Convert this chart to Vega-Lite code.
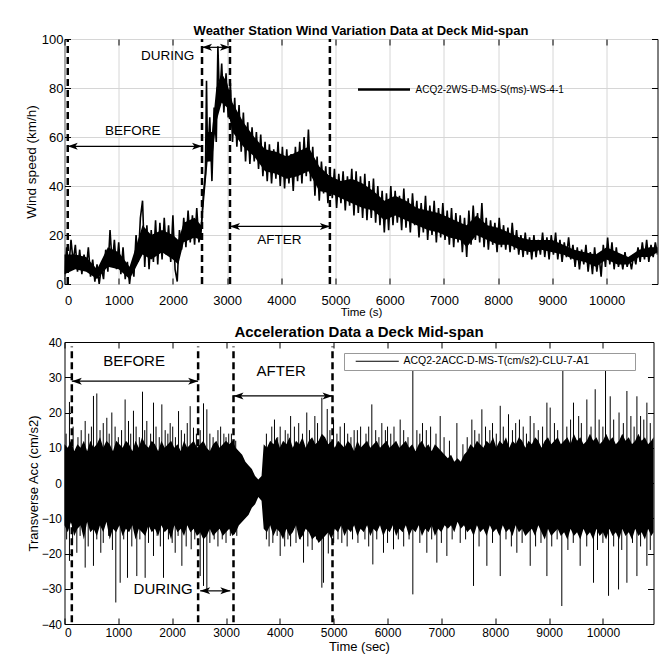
{
"$schema": "https://vega.github.io/schema/vega-lite/v6.json",
"background": "white",
"padding": {"left": 23.5, "top": 24, "right": 2, "bottom": 2},
"config": {
  "font": "Liberation Sans",
  "view": {"stroke": "black", "strokeWidth": 1},
  "axis": {"domain": false, "tickColor": "black", "tickSize": -6, "labelFont": "Liberation Sans", "titleFont": "Liberation Sans", "titleFontWeight": "normal", "labelColor": "black", "titleColor": "black", "grid": false, "format": "d"},
  "legend": {"labelFont": "Liberation Sans", "labelColor": "black", "labelLimit": 500}
},
"datasets": {
  "wind": [
{"t":0,"w":2},{"t":40,"w":15},{"t":80,"w":7},{"t":120,"w":18},{"t":160,"w":9},{"t":200,"w":16},{"t":240,"w":5},{"t":280,"w":14},{"t":320,"w":4},{"t":360,"w":12},{"t":400,"w":6},{"t":440,"w":15},{"t":480,"w":3},{"t":520,"w":10},{"t":560,"w":1},{"t":600,"w":8},{"t":640,"w":0},{"t":680,"w":7},{"t":720,"w":2},{"t":760,"w":14},{"t":800,"w":5},{"t":840,"w":22},{"t":880,"w":8},{"t":920,"w":18},{"t":960,"w":6},{"t":1000,"w":17},{"t":1040,"w":4},{"t":1080,"w":15},{"t":1120,"w":2},{"t":1160,"w":9},{"t":1200,"w":0},{"t":1240,"w":8},{"t":1280,"w":3},{"t":1320,"w":20},{"t":1360,"w":9},{"t":1400,"w":27},{"t":1440,"w":34},{"t":1480,"w":7},{"t":1520,"w":24},{"t":1560,"w":6},{"t":1600,"w":22},{"t":1640,"w":9},{"t":1680,"w":26},{"t":1720,"w":8},{"t":1760,"w":25},{"t":1800,"w":10},{"t":1840,"w":27},{"t":1880,"w":12},{"t":1920,"w":24},{"t":1960,"w":9},{"t":2000,"w":28},{"t":2040,"w":6},{"t":2080,"w":1},{"t":2120,"w":22},{"t":2160,"w":14},{"t":2200,"w":27},{"t":2240,"w":15},{"t":2280,"w":30},{"t":2320,"w":17},{"t":2360,"w":28},{"t":2400,"w":16},{"t":2440,"w":31},{"t":2480,"w":17},{"t":2520,"w":22},{"t":2560,"w":36},{"t":2600,"w":45},{"t":2620,"w":83},{"t":2640,"w":50},{"t":2680,"w":68},{"t":2720,"w":42},{"t":2760,"w":72},{"t":2800,"w":58},{"t":2830,"w":97},{"t":2860,"w":75},{"t":2900,"w":90},{"t":2940,"w":70},{"t":2980,"w":86},{"t":3020,"w":68},{"t":3060,"w":82},{"t":3100,"w":58},{"t":3140,"w":76},{"t":3180,"w":56},{"t":3220,"w":73},{"t":3260,"w":54},{"t":3300,"w":70},{"t":3340,"w":50},{"t":3380,"w":66},{"t":3420,"w":49},{"t":3460,"w":64},{"t":3500,"w":50},{"t":3540,"w":62},{"t":3580,"w":47},{"t":3620,"w":61},{"t":3660,"w":44},{"t":3700,"w":58},{"t":3740,"w":42},{"t":3780,"w":57},{"t":3820,"w":41},{"t":3860,"w":55},{"t":3900,"w":43},{"t":3940,"w":58},{"t":3980,"w":40},{"t":4020,"w":56},{"t":4060,"w":39},{"t":4100,"w":55},{"t":4140,"w":41},{"t":4180,"w":53},{"t":4220,"w":38},{"t":4260,"w":56},{"t":4300,"w":42},{"t":4340,"w":58},{"t":4380,"w":41},{"t":4420,"w":60},{"t":4460,"w":44},{"t":4500,"w":63},{"t":4540,"w":42},{"t":4580,"w":56},{"t":4620,"w":36},{"t":4660,"w":52},{"t":4700,"w":34},{"t":4740,"w":50},{"t":4780,"w":37},{"t":4820,"w":48},{"t":4860,"w":33},{"t":4900,"w":46},{"t":4940,"w":35},{"t":4980,"w":47},{"t":5020,"w":31},{"t":5060,"w":45},{"t":5100,"w":33},{"t":5140,"w":46},{"t":5180,"w":30},{"t":5220,"w":44},{"t":5260,"w":32},{"t":5300,"w":47},{"t":5340,"w":28},{"t":5380,"w":46},{"t":5420,"w":29},{"t":5460,"w":44},{"t":5500,"w":27},{"t":5540,"w":45},{"t":5580,"w":26},{"t":5620,"w":42},{"t":5660,"w":27},{"t":5700,"w":43},{"t":5740,"w":25},{"t":5780,"w":40},{"t":5820,"w":24},{"t":5860,"w":38},{"t":5900,"w":21},{"t":5940,"w":37},{"t":5980,"w":22},{"t":6020,"w":40},{"t":6060,"w":24},{"t":6100,"w":38},{"t":6140,"w":25},{"t":6180,"w":36},{"t":6220,"w":22},{"t":6260,"w":39},{"t":6300,"w":23},{"t":6340,"w":35},{"t":6380,"w":21},{"t":6420,"w":37},{"t":6460,"w":24},{"t":6500,"w":34},{"t":6540,"w":19},{"t":6580,"w":33},{"t":6620,"w":21},{"t":6660,"w":36},{"t":6700,"w":18},{"t":6740,"w":32},{"t":6780,"w":20},{"t":6820,"w":34},{"t":6860,"w":17},{"t":6900,"w":31},{"t":6940,"w":19},{"t":6980,"w":33},{"t":7020,"w":18},{"t":7060,"w":30},{"t":7100,"w":16},{"t":7140,"w":31},{"t":7180,"w":15},{"t":7220,"w":29},{"t":7260,"w":17},{"t":7300,"w":28},{"t":7340,"w":13},{"t":7380,"w":27},{"t":7420,"w":11},{"t":7460,"w":30},{"t":7500,"w":16},{"t":7540,"w":32},{"t":7580,"w":18},{"t":7620,"w":29},{"t":7660,"w":17},{"t":7700,"w":33},{"t":7740,"w":15},{"t":7780,"w":27},{"t":7820,"w":14},{"t":7860,"w":26},{"t":7900,"w":16},{"t":7940,"w":25},{"t":7980,"w":13},{"t":8020,"w":27},{"t":8060,"w":15},{"t":8100,"w":24},{"t":8140,"w":14},{"t":8180,"w":23},{"t":8220,"w":13},{"t":8260,"w":25},{"t":8300,"w":14},{"t":8340,"w":22},{"t":8380,"w":12},{"t":8420,"w":20},{"t":8460,"w":11},{"t":8500,"w":21},{"t":8540,"w":12},{"t":8580,"w":19},{"t":8620,"w":10},{"t":8660,"w":20},{"t":8700,"w":11},{"t":8740,"w":18},{"t":8780,"w":12},{"t":8820,"w":21},{"t":8860,"w":11},{"t":8900,"w":19},{"t":8940,"w":10},{"t":8980,"w":20},{"t":9020,"w":12},{"t":9060,"w":21},{"t":9100,"w":10},{"t":9140,"w":18},{"t":9180,"w":9},{"t":9220,"w":17},{"t":9260,"w":11},{"t":9300,"w":19},{"t":9340,"w":10},{"t":9380,"w":16},{"t":9420,"w":7},{"t":9460,"w":15},{"t":9500,"w":6},{"t":9540,"w":14},{"t":9580,"w":8},{"t":9620,"w":16},{"t":9660,"w":5},{"t":9700,"w":13},{"t":9740,"w":4},{"t":9780,"w":15},{"t":9820,"w":5},{"t":9860,"w":12},{"t":9900,"w":3},{"t":9940,"w":16},{"t":9980,"w":7},{"t":10020,"w":19},{"t":10060,"w":8},{"t":10100,"w":17},{"t":10140,"w":6},{"t":10180,"w":15},{"t":10220,"w":7},{"t":10260,"w":12},{"t":10300,"w":6},{"t":10340,"w":13},{"t":10380,"w":7},{"t":10420,"w":11},{"t":10460,"w":6},{"t":10500,"w":12},{"t":10540,"w":8},{"t":10580,"w":15},{"t":10620,"w":9},{"t":10660,"w":17},{"t":10700,"w":10},{"t":10740,"w":18},{"t":10780,"w":9},{"t":10820,"w":16},{"t":10860,"w":11},{"t":10900,"w":17},{"t":10940,"w":12}
  ],
  "windCore": [
{"t":0,"a":4,"b":12},{"t":200,"a":6,"b":12},{"t":400,"a":5,"b":11},{"t":600,"a":2,"b":6},{"t":800,"a":7,"b":15},{"t":1000,"a":6,"b":13},{"t":1200,"a":2,"b":7},{"t":1300,"a":6,"b":14},{"t":1440,"a":12,"b":24},{"t":1600,"a":10,"b":20},{"t":1800,"a":13,"b":22},{"t":2000,"a":10,"b":20},{"t":2100,"a":8,"b":18},{"t":2200,"a":17,"b":25},{"t":2400,"a":19,"b":27},{"t":2520,"a":18,"b":24},{"t":2560,"a":30,"b":36},{"t":2600,"a":40,"b":50},{"t":2640,"a":50,"b":62},{"t":2720,"a":50,"b":62},{"t":2800,"a":66,"b":80},{"t":2900,"a":74,"b":86},{"t":3000,"a":72,"b":82},{"t":3100,"a":62,"b":74},{"t":3300,"a":56,"b":66},{"t":3500,"a":52,"b":60},{"t":3700,"a":46,"b":55},{"t":3900,"a":45,"b":54},{"t":4100,"a":43,"b":52},{"t":4300,"a":44,"b":54},{"t":4500,"a":46,"b":56},{"t":4700,"a":38,"b":48},{"t":4900,"a":37,"b":44},{"t":5100,"a":35,"b":42},{"t":5300,"a":33,"b":43},{"t":5500,"a":31,"b":41},{"t":5700,"a":30,"b":38},{"t":5900,"a":26,"b":34},{"t":6100,"a":28,"b":36},{"t":6300,"a":26,"b":34},{"t":6500,"a":24,"b":31},{"t":6700,"a":22,"b":30},{"t":6900,"a":21,"b":29},{"t":7100,"a":19,"b":27},{"t":7300,"a":18,"b":25},{"t":7420,"a":15,"b":24},{"t":7600,"a":20,"b":28},{"t":7800,"a":18,"b":24},{"t":8000,"a":16,"b":23},{"t":8200,"a":16,"b":21},{"t":8400,"a":14,"b":19},{"t":8600,"a":13,"b":18},{"t":8800,"a":14,"b":18},{"t":9000,"a":13,"b":18},{"t":9200,"a":12,"b":16},{"t":9400,"a":10,"b":14},{"t":9600,"a":9,"b":13},{"t":9800,"a":7,"b":12},{"t":10000,"a":10,"b":15},{"t":10200,"a":8,"b":13},{"t":10400,"a":8,"b":11},{"t":10600,"a":11,"b":14},{"t":10800,"a":11,"b":15},{"t":10940,"a":13,"b":15}
  ],
  "accCore": [
{"t":0,"lo":-12,"hi":11},{"t":60,"lo":-14,"hi":10},{"t":120,"lo":-11,"hi":12},{"t":180,"lo":-15,"hi":9},{"t":240,"lo":-13,"hi":11},{"t":300,"lo":-12,"hi":10},{"t":360,"lo":-16,"hi":12},{"t":420,"lo":-11,"hi":9},{"t":480,"lo":-14,"hi":12},{"t":540,"lo":-13,"hi":10},{"t":600,"lo":-15,"hi":11},{"t":660,"lo":-12,"hi":13},{"t":720,"lo":-14,"hi":10},{"t":780,"lo":-11,"hi":12},{"t":840,"lo":-16,"hi":11},{"t":900,"lo":-13,"hi":9},{"t":960,"lo":-14,"hi":12},{"t":1020,"lo":-12,"hi":11},{"t":1080,"lo":-15,"hi":10},{"t":1140,"lo":-13,"hi":12},{"t":1200,"lo":-14,"hi":11},{"t":1260,"lo":-12,"hi":9},{"t":1320,"lo":-16,"hi":12},{"t":1380,"lo":-13,"hi":10},{"t":1440,"lo":-14,"hi":13},{"t":1500,"lo":-15,"hi":11},{"t":1560,"lo":-12,"hi":10},{"t":1620,"lo":-14,"hi":12},{"t":1680,"lo":-13,"hi":11},{"t":1740,"lo":-15,"hi":9},{"t":1800,"lo":-12,"hi":12},{"t":1860,"lo":-14,"hi":10},{"t":1920,"lo":-13,"hi":11},{"t":1980,"lo":-16,"hi":12},{"t":2040,"lo":-12,"hi":10},{"t":2100,"lo":-14,"hi":11},{"t":2160,"lo":-13,"hi":9},{"t":2220,"lo":-15,"hi":12},{"t":2280,"lo":-12,"hi":10},{"t":2340,"lo":-14,"hi":11},{"t":2400,"lo":-13,"hi":12},{"t":2460,"lo":-15,"hi":10},{"t":2520,"lo":-14,"hi":11},{"t":2580,"lo":-16,"hi":12},{"t":2640,"lo":-15,"hi":10},{"t":2700,"lo":-13,"hi":9},{"t":2760,"lo":-15,"hi":11},{"t":2820,"lo":-14,"hi":12},{"t":2880,"lo":-13,"hi":10},{"t":2940,"lo":-15,"hi":11},{"t":3000,"lo":-14,"hi":12},{"t":3060,"lo":-13,"hi":11},{"t":3120,"lo":-15,"hi":12},{"t":3180,"lo":-14,"hi":10},{"t":3240,"lo":-12,"hi":9},{"t":3300,"lo":-11,"hi":8},{"t":3360,"lo":-10,"hi":6},{"t":3420,"lo":-9,"hi":5},{"t":3480,"lo":-7,"hi":4},{"t":3540,"lo":-6,"hi":2},{"t":3600,"lo":-4,"hi":1},{"t":3660,"lo":-5,"hi":2},{"t":3700,"lo":-13,"hi":11},{"t":3760,"lo":-14,"hi":10},{"t":3820,"lo":-12,"hi":12},{"t":3880,"lo":-15,"hi":11},{"t":3940,"lo":-13,"hi":13},{"t":4000,"lo":-14,"hi":10},{"t":4060,"lo":-16,"hi":12},{"t":4120,"lo":-13,"hi":11},{"t":4180,"lo":-15,"hi":13},{"t":4240,"lo":-14,"hi":10},{"t":4300,"lo":-12,"hi":12},{"t":4360,"lo":-16,"hi":11},{"t":4420,"lo":-15,"hi":13},{"t":4480,"lo":-13,"hi":10},{"t":4540,"lo":-14,"hi":12},{"t":4600,"lo":-16,"hi":13},{"t":4660,"lo":-15,"hi":11},{"t":4720,"lo":-17,"hi":12},{"t":4780,"lo":-16,"hi":14},{"t":4840,"lo":-15,"hi":13},{"t":4900,"lo":-14,"hi":11},{"t":4960,"lo":-16,"hi":12},{"t":5020,"lo":-13,"hi":10},{"t":5080,"lo":-14,"hi":12},{"t":5140,"lo":-12,"hi":11},{"t":5200,"lo":-15,"hi":10},{"t":5260,"lo":-13,"hi":12},{"t":5320,"lo":-14,"hi":11},{"t":5380,"lo":-12,"hi":9},{"t":5440,"lo":-15,"hi":12},{"t":5500,"lo":-13,"hi":10},{"t":5560,"lo":-14,"hi":11},{"t":5620,"lo":-12,"hi":12},{"t":5680,"lo":-15,"hi":10},{"t":5740,"lo":-13,"hi":11},{"t":5800,"lo":-14,"hi":12},{"t":5860,"lo":-12,"hi":10},{"t":5920,"lo":-15,"hi":11},{"t":5980,"lo":-13,"hi":12},{"t":6040,"lo":-14,"hi":10},{"t":6100,"lo":-12,"hi":11},{"t":6160,"lo":-15,"hi":12},{"t":6220,"lo":-13,"hi":10},{"t":6280,"lo":-14,"hi":11},{"t":6340,"lo":-12,"hi":12},{"t":6400,"lo":-15,"hi":10},{"t":6460,"lo":-13,"hi":11},{"t":6520,"lo":-14,"hi":9},{"t":6580,"lo":-12,"hi":11},{"t":6640,"lo":-15,"hi":12},{"t":6700,"lo":-13,"hi":10},{"t":6760,"lo":-14,"hi":11},{"t":6820,"lo":-12,"hi":9},{"t":6880,"lo":-15,"hi":11},{"t":6940,"lo":-13,"hi":10},{"t":7000,"lo":-14,"hi":9},{"t":7060,"lo":-12,"hi":8},{"t":7120,"lo":-13,"hi":7},{"t":7180,"lo":-12,"hi":8},{"t":7240,"lo":-14,"hi":6},{"t":7300,"lo":-11,"hi":7},{"t":7360,"lo":-13,"hi":6},{"t":7420,"lo":-12,"hi":8},{"t":7480,"lo":-14,"hi":9},{"t":7540,"lo":-13,"hi":11},{"t":7600,"lo":-15,"hi":10},{"t":7660,"lo":-12,"hi":12},{"t":7720,"lo":-14,"hi":11},{"t":7780,"lo":-13,"hi":10},{"t":7840,"lo":-15,"hi":12},{"t":7900,"lo":-12,"hi":11},{"t":7960,"lo":-14,"hi":13},{"t":8020,"lo":-13,"hi":10},{"t":8080,"lo":-15,"hi":12},{"t":8140,"lo":-12,"hi":11},{"t":8200,"lo":-14,"hi":13},{"t":8260,"lo":-13,"hi":10},{"t":8320,"lo":-15,"hi":12},{"t":8380,"lo":-12,"hi":11},{"t":8440,"lo":-14,"hi":13},{"t":8500,"lo":-13,"hi":12},{"t":8560,"lo":-15,"hi":10},{"t":8620,"lo":-14,"hi":12},{"t":8680,"lo":-13,"hi":11},{"t":8740,"lo":-15,"hi":13},{"t":8800,"lo":-12,"hi":12},{"t":8860,"lo":-14,"hi":10},{"t":8920,"lo":-16,"hi":12},{"t":8980,"lo":-13,"hi":13},{"t":9040,"lo":-15,"hi":11},{"t":9100,"lo":-14,"hi":12},{"t":9160,"lo":-13,"hi":13},{"t":9220,"lo":-15,"hi":11},{"t":9280,"lo":-14,"hi":12},{"t":9340,"lo":-16,"hi":13},{"t":9400,"lo":-13,"hi":11},{"t":9460,"lo":-15,"hi":14},{"t":9520,"lo":-14,"hi":12},{"t":9580,"lo":-16,"hi":13},{"t":9640,"lo":-13,"hi":11},{"t":9700,"lo":-15,"hi":12},{"t":9760,"lo":-14,"hi":14},{"t":9820,"lo":-16,"hi":12},{"t":9880,"lo":-13,"hi":13},{"t":9940,"lo":-15,"hi":11},{"t":10000,"lo":-14,"hi":12},{"t":10060,"lo":-16,"hi":14},{"t":10120,"lo":-13,"hi":12},{"t":10180,"lo":-15,"hi":13},{"t":10240,"lo":-14,"hi":11},{"t":10300,"lo":-16,"hi":12},{"t":10360,"lo":-13,"hi":14},{"t":10420,"lo":-15,"hi":12},{"t":10480,"lo":-14,"hi":13},{"t":10540,"lo":-16,"hi":11},{"t":10600,"lo":-13,"hi":12},{"t":10660,"lo":-15,"hi":14},{"t":10720,"lo":-14,"hi":12},{"t":10780,"lo":-16,"hi":13},{"t":10840,"lo":-13,"hi":11},{"t":10900,"lo":-15,"hi":12},{"t":10940,"lo":-14,"hi":13}
  ],
  "accSpikes": [
{"t":92,"v":23},{"t":384,"v":17.6},{"t":538,"v":24.7},{"t":600,"v":25.4},{"t":786,"v":18.5},{"t":879,"v":20},{"t":1126,"v":23.7},{"t":1189,"v":17.6},{"t":1281,"v":20.5},{"t":1449,"v":25.9},{"t":1529,"v":17.6},{"t":1653,"v":22.8},{"t":1808,"v":22.3},{"t":1963,"v":17},{"t":2118,"v":20.4},{"t":2334,"v":21.8},{"t":2396,"v":15.7},{"t":2582,"v":22.6},{"t":2644,"v":20.9},{"t":2900,"v":16},{"t":3050,"v":14},{"t":3900,"v":18},{"t":4006,"v":16},{"t":4200,"v":19},{"t":4350,"v":17},{"t":4500,"v":20},{"t":4650,"v":19},{"t":4780,"v":24.2},{"t":4880,"v":21},{"t":4997,"v":18},{"t":5200,"v":17},{"t":5380,"v":15},{"t":5500,"v":16},{"t":5708,"v":22.3},{"t":5894,"v":17},{"t":6000,"v":16},{"t":6235,"v":18},{"t":6470,"v":31.8},{"t":6545,"v":15},{"t":6650,"v":17},{"t":6978,"v":19},{"t":7288,"v":17},{"t":7566,"v":18},{"t":7752,"v":20.9},{"t":7950,"v":17},{"t":8093,"v":21.9},{"t":8247,"v":19.5},{"t":8450,"v":18},{"t":8650,"v":19},{"t":8960,"v":22.8},{"t":9021,"v":21.4},{"t":9256,"v":31.8},{"t":9454,"v":22.8},{"t":9550,"v":19},{"t":9702,"v":23.7},{"t":9857,"v":26.6},{"t":10049,"v":31.8},{"t":10136,"v":24.6},{"t":10300,"v":20},{"t":10446,"v":26.1},{"t":10632,"v":24.6},{"t":10700,"v":19},{"t":10817,"v":22.8},
{"t":92,"v":-22.1},{"t":229,"v":-19.8},{"t":384,"v":-24},{"t":538,"v":-23.5},{"t":674,"v":-19.8},{"t":953,"v":-33.9},{"t":1034,"v":-28.3},{"t":1170,"v":-26.9},{"t":1343,"v":-26.4},{"t":1498,"v":-26.9},{"t":1653,"v":-20.7},{"t":1839,"v":-26.9},{"t":2056,"v":-19.8},{"t":2180,"v":-23.5},{"t":2353,"v":-18.8},{"t":2520,"v":-26.4},{"t":2582,"v":-29.2},{"t":2644,"v":-30.2},{"t":3800,"v":-18},{"t":4006,"v":-20.7},{"t":4200,"v":-18},{"t":4440,"v":-22.6},{"t":4600,"v":-19},{"t":4780,"v":-29.7},{"t":4811,"v":-28.3},{"t":5151,"v":-17},{"t":5727,"v":-23.1},{"t":5925,"v":-19.8},{"t":6111,"v":-18.8},{"t":6470,"v":-31.6},{"t":6730,"v":-19.8},{"t":6916,"v":-22.6},{"t":7102,"v":-20.7},{"t":7597,"v":-29.2},{"t":7845,"v":-23.5},{"t":8093,"v":-26.4},{"t":8402,"v":-19.8},{"t":8650,"v":-23.5},{"t":8960,"v":-26.4},{"t":9237,"v":-34.9},{"t":9578,"v":-23.5},{"t":9826,"v":-28.3},{"t":10105,"v":-32},{"t":10291,"v":-30.2},{"t":10446,"v":-28.3},{"t":10632,"v":-26.4},{"t":10817,"v":-23.5},
{"t":30,"v":14},{"t":160,"v":16},{"t":250,"v":13},{"t":310,"v":15},{"t":450,"v":14},{"t":500,"v":16},{"t":660,"v":15},{"t":720,"v":17},{"t":830,"v":14},{"t":940,"v":16},{"t":1000,"v":13},{"t":1060,"v":15},{"t":1230,"v":14},{"t":1330,"v":16},{"t":1390,"v":13},{"t":1490,"v":15},{"t":1600,"v":14},{"t":1700,"v":16},{"t":1760,"v":13},{"t":1870,"v":15},{"t":1920,"v":14},{"t":2010,"v":16},{"t":2060,"v":13},{"t":2170,"v":15},{"t":2230,"v":14},{"t":2280,"v":17},{"t":2450,"v":14},{"t":2520,"v":15},{"t":2700,"v":14},{"t":2760,"v":13},{"t":2850,"v":15},{"t":2960,"v":14},{"t":3000,"v":13},{"t":3100,"v":14},{"t":3180,"v":12},{"t":3750,"v":14},{"t":3850,"v":16},{"t":3960,"v":13},{"t":4100,"v":15},{"t":4150,"v":14},{"t":4270,"v":16},{"t":4420,"v":14},{"t":4550,"v":15},{"t":4700,"v":17},{"t":4930,"v":15},{"t":5060,"v":14},{"t":5120,"v":16},{"t":5260,"v":14},{"t":5320,"v":13},{"t":5440,"v":15},{"t":5600,"v":14},{"t":5650,"v":16},{"t":5780,"v":15},{"t":5840,"v":13},{"t":5960,"v":15},{"t":6060,"v":14},{"t":6120,"v":16},{"t":6300,"v":15},{"t":6380,"v":13},{"t":6600,"v":14},{"t":6720,"v":15},{"t":6800,"v":16},{"t":6900,"v":14},{"t":7050,"v":13},{"t":7150,"v":12},{"t":7400,"v":11},{"t":7480,"v":13},{"t":7620,"v":15},{"t":7700,"v":14},{"t":7820,"v":16},{"t":7900,"v":15},{"t":8020,"v":14},{"t":8150,"v":16},{"t":8320,"v":15},{"t":8380,"v":17},{"t":8520,"v":16},{"t":8580,"v":14},{"t":8720,"v":17},{"t":8800,"v":15},{"t":8880,"v":16},{"t":9100,"v":17},{"t":9160,"v":15},{"t":9330,"v":16},{"t":9400,"v":18},{"t":9600,"v":17},{"t":9780,"v":16},{"t":9930,"v":18},{"t":10000,"v":16},{"t":10200,"v":18},{"t":10380,"v":17},{"t":10520,"v":19},{"t":10580,"v":16},{"t":10760,"v":18},{"t":10880,"v":17},
{"t":40,"v":-16},{"t":150,"v":-17},{"t":290,"v":-15},{"t":440,"v":-18},{"t":600,"v":-16},{"t":720,"v":-17},{"t":820,"v":-15},{"t":890,"v":-19},{"t":1100,"v":-16},{"t":1250,"v":-18},{"t":1400,"v":-16},{"t":1560,"v":-17},{"t":1720,"v":-15},{"t":1780,"v":-18},{"t":1930,"v":-16},{"t":2000,"v":-17},{"t":2110,"v":-15},{"t":2260,"v":-18},{"t":2420,"v":-16},{"t":2700,"v":-17},{"t":2780,"v":-16},{"t":2850,"v":-18},{"t":2930,"v":-16},{"t":3000,"v":-17},{"t":3080,"v":-15},{"t":3200,"v":-15},{"t":3750,"v":-16},{"t":3870,"v":-17},{"t":3950,"v":-15},{"t":4090,"v":-18},{"t":4150,"v":-16},{"t":4300,"v":-17},{"t":4380,"v":-16},{"t":4520,"v":-18},{"t":4680,"v":-16},{"t":4900,"v":-20},{"t":5000,"v":-17},{"t":5080,"v":-16},{"t":5250,"v":-18},{"t":5350,"v":-16},{"t":5450,"v":-17},{"t":5580,"v":-16},{"t":5650,"v":-18},{"t":5800,"v":-16},{"t":6000,"v":-17},{"t":6200,"v":-16},{"t":6300,"v":-18},{"t":6400,"v":-16},{"t":6600,"v":-17},{"t":6820,"v":-16},{"t":7000,"v":-17},{"t":7200,"v":-16},{"t":7350,"v":-17},{"t":7450,"v":-16},{"t":7700,"v":-18},{"t":7950,"v":-17},{"t":8200,"v":-16},{"t":8300,"v":-18},{"t":8500,"v":-17},{"t":8750,"v":-18},{"t":8850,"v":-17},{"t":9050,"v":-18},{"t":9150,"v":-16},{"t":9350,"v":-19},{"t":9450,"v":-17},{"t":9700,"v":-18},{"t":9900,"v":-19},{"t":10000,"v":-17},{"t":10200,"v":-18},{"t":10350,"v":-19},{"t":10550,"v":-17},{"t":10700,"v":-18},{"t":10880,"v":-19}
  ],
  "topLines": [{"t":60,"y1":0,"y2":100},{"t":2537,"y1":0,"y2":100},{"t":3053,"y1":0,"y2":100},{"t":4896,"y1":0,"y2":100}],
  "topArrows": [{"x1":60,"x2":2537,"y":56.2},{"x1":2537,"x2":3053,"y":96.6},{"x1":3053,"x2":4896,"y":23.5}],
  "topText": [{"t":1260,"v":62.3,"label":"BEFORE"},{"t":1904,"v":92.9,"label":"DURING"},{"t":3962,"v":17.8,"label":"AFTER"}],
  "botLines": [{"t":136,"y1":-39.5,"y2":38.7},{"t":2482,"y1":-39.5,"y2":38.7},{"t":3139,"y1":-39.5,"y2":38.7},{"t":4978,"y1":-39.5,"y2":38.7}],
  "botArrows": [{"x1":136,"x2":2482,"y":28.9},{"x1":3139,"x2":4978,"y":24.7},{"x1":2520,"x2":3080,"y":-30.6}],
  "botText": [{"t":1293,"v":34.6,"label":"BEFORE"},{"t":4024,"v":31.8,"label":"AFTER"},{"t":1832,"v":-30.2,"label":"DURING"}]
},
"spacing": 58,
"bounds": "flush",
"resolve": {"scale": {"color": "independent"}, "legend": {"color": "independent"}},
"vconcat": [
{
  "width": 593, "height": 245,
  "title": {"text": "Weather Station Wind Variation Data at Deck Mid-span", "fontSize": 13, "font": "Liberation Sans", "fontWeight": "bold", "color": "black", "offset": -5},
  "resolve": {"axis": {"x": "independent", "y": "independent"}},
  "layer": [
    {"data": {"name": "windCore"}, "mark": {"type": "area", "color": "black", "opacity": 1},
     "encoding": {
       "x": {"field": "t", "type": "quantitative", "axis": null, "scale": {"domain": [0, 10940], "nice": false, "zero": false}},
       "y": {"field": "a", "type": "quantitative", "axis": null, "scale": {"domain": [0, 100], "nice": false}},
       "y2": {"field": "b"}
     }},
    {"data": {"name": "wind"}, "mark": {"type": "line", "strokeWidth": 1.6, "clip": true},
     "encoding": {
       "x": {"field": "t", "type": "quantitative", "scale": {"domain": [0, 10940], "nice": false, "zero": false},
             "axis": {"orient": "bottom", "values": [0,1000,2000,3000,4000,5000,6000,7000,8000,9000,10000], "grid": true, "gridColor": "#d6d6d6", "labelFontSize": 13, "labelPadding": 16, "title": "Time (s)", "titleFontSize": 11.5, "titlePadding": -1}},
       "y": {"field": "w", "type": "quantitative", "scale": {"domain": [0, 100], "nice": false},
             "axis": {"orient": "left", "values": [0,20,40,60,80,100], "grid": true, "gridColor": "#d6d6d6", "labelFontSize": 13, "labelPadding": 7.5, "title": "Wind speed (km/h)", "titleFontSize": 13.5, "titlePadding": 3}},
       "color": {"datum": "ACQ2-2WS-D-MS-S(ms)-WS-4-1", "type": "nominal", "scale": {"range": ["black"]},
                 "legend": {"title": null, "orient": "none", "legendX": 292, "legendY": 23, "symbolType": "stroke", "symbolSize": 2704, "symbolStrokeWidth": 2.5, "labelFontSize": 10, "labelOffset": 4, "padding": 0}}
     }},
    {"data": {"name": "topLines"}, "mark": {"type": "rule", "strokeDash": [7, 4], "strokeWidth": 2.5, "color": "black"},
     "encoding": {
       "x": {"field": "t", "type": "quantitative", "scale": {"domain": [0, 10940], "nice": false, "zero": false},
             "axis": {"orient": "top", "values": [0,1000,2000,3000,4000,5000,6000,7000,8000,9000,10000], "labels": false, "grid": false, "title": null}},
       "y": {"field": "y1", "type": "quantitative", "scale": {"domain": [0, 100], "nice": false},
             "axis": {"orient": "right", "values": [0,20,40,60,80,100], "labels": false, "grid": false, "title": null}},
       "y2": {"field": "y2"}
     }},
    {"data": {"name": "topArrows"}, "mark": {"type": "rule", "strokeWidth": 1.2, "color": "black"},
     "encoding": {
       "x": {"field": "x1", "type": "quantitative", "axis": null, "scale": {"domain": [0, 10940], "nice": false, "zero": false}},
       "x2": {"field": "x2"},
       "y": {"field": "y", "type": "quantitative", "axis": null, "scale": {"domain": [0, 100], "nice": false}}
     }},
    {"data": {"name": "topArrows"}, "mark": {"type": "point", "shape": "M0,0L2,-0.7L1.5,0L2,0.7Z", "filled": true, "color": "black", "size": 100, "opacity": 1},
     "encoding": {
       "x": {"field": "x1", "type": "quantitative", "axis": null, "scale": {"domain": [0, 10940], "nice": false, "zero": false}},
       "y": {"field": "y", "type": "quantitative", "axis": null, "scale": {"domain": [0, 100], "nice": false}}
     }},
    {"data": {"name": "topArrows"}, "mark": {"type": "point", "shape": "M0,0L-2,-0.7L-1.5,0L-2,0.7Z", "filled": true, "color": "black", "size": 100, "opacity": 1},
     "encoding": {
       "x": {"field": "x2", "type": "quantitative", "axis": null, "scale": {"domain": [0, 10940], "nice": false, "zero": false}},
       "y": {"field": "y", "type": "quantitative", "axis": null, "scale": {"domain": [0, 100], "nice": false}}
     }},
    {"data": {"name": "topText"}, "mark": {"type": "text", "fontSize": 13.5, "font": "Liberation Sans", "color": "black", "align": "center", "baseline": "middle"},
     "encoding": {
       "x": {"field": "t", "type": "quantitative", "axis": null, "scale": {"domain": [0, 10940], "nice": false, "zero": false}},
       "y": {"field": "v", "type": "quantitative", "axis": null, "scale": {"domain": [0, 100], "nice": false}},
       "text": {"field": "label"}
     }}
  ]
},
{
  "width": 589, "height": 282,
  "title": {"text": "Acceleration Data a Deck Mid-span", "fontSize": 15, "font": "Liberation Sans", "fontWeight": "bold", "color": "black", "offset": -4},
  "resolve": {"axis": {"x": "independent", "y": "independent"}},
  "layer": [
    {"data": {"name": "accCore"}, "mark": {"type": "area", "color": "black", "opacity": 1},
     "encoding": {
       "x": {"field": "t", "type": "quantitative", "scale": {"domain": [0, 10940], "nice": false, "zero": false},
             "axis": {"orient": "bottom", "values": [0,1000,2000,3000,4000,5000,6000,7000,8000,9000,10000], "labelFontSize": 12, "labelPadding": 9, "title": "Time (sec)", "titleFontSize": 13, "titlePadding": 2}},
       "y": {"field": "lo", "type": "quantitative", "scale": {"domain": [-40, 40], "nice": false},
             "axis": {"orient": "left", "values": [-40,-30,-20,-10,0,10,20,30,40], "labelFontSize": 12, "labelPadding": 9, "title": "Transverse Acc (cm/s2)", "titleFontSize": 13, "titlePadding": 1}},
       "y2": {"field": "hi"}
     }},
    {"data": {"name": "accSpikes"}, "mark": {"type": "rule", "strokeWidth": 1},
     "encoding": {
       "x": {"field": "t", "type": "quantitative", "scale": {"domain": [0, 10940], "nice": false, "zero": false},
             "axis": {"orient": "top", "values": [0,1000,2000,3000,4000,5000,6000,7000,8000,9000,10000], "labels": false, "title": null}},
       "y": {"field": "v", "type": "quantitative", "scale": {"domain": [-40, 40], "nice": false},
             "axis": {"orient": "right", "values": [-40,-30,-20,-10,0,10,20,30,40], "labels": false, "title": null}},
       "y2": {"datum": 0},
       "color": {"datum": "ACQ2-2ACC-D-MS-T(cm/s2)-CLU-7-A1", "type": "nominal", "scale": {"range": ["black"]},
                 "legend": {"title": "·", "titleOrient": "right", "titleColor": "white", "titleFontSize": 6, "titlePadding": 41, "orient": "none", "legendX": 279.5, "legendY": 11, "symbolType": "M-8,0L8,0", "symbolSize": 29, "symbolStrokeWidth": 1, "symbolStrokeColor": "black", "symbolOffset": 25, "labelFontSize": 10.5, "labelOffset": 21, "padding": 3, "strokeColor": "#999999", "fillColor": "white"}}
     }},
    {"data": {"name": "botLines"}, "mark": {"type": "rule", "strokeDash": [7, 4], "strokeWidth": 2.5, "color": "black"},
     "encoding": {
       "x": {"field": "t", "type": "quantitative", "axis": null, "scale": {"domain": [0, 10940], "nice": false, "zero": false}},
       "y": {"field": "y1", "type": "quantitative", "axis": null, "scale": {"domain": [-40, 40], "nice": false}},
       "y2": {"field": "y2"}
     }},
    {"data": {"name": "botArrows"}, "mark": {"type": "rule", "strokeWidth": 1.2, "color": "black"},
     "encoding": {
       "x": {"field": "x1", "type": "quantitative", "axis": null, "scale": {"domain": [0, 10940], "nice": false, "zero": false}},
       "x2": {"field": "x2"},
       "y": {"field": "y", "type": "quantitative", "axis": null, "scale": {"domain": [-40, 40], "nice": false}}
     }},
    {"data": {"name": "botArrows"}, "mark": {"type": "point", "shape": "M0,0L2,-0.7L1.5,0L2,0.7Z", "filled": true, "color": "black", "size": 100, "opacity": 1},
     "encoding": {
       "x": {"field": "x1", "type": "quantitative", "axis": null, "scale": {"domain": [0, 10940], "nice": false, "zero": false}},
       "y": {"field": "y", "type": "quantitative", "axis": null, "scale": {"domain": [-40, 40], "nice": false}}
     }},
    {"data": {"name": "botArrows"}, "mark": {"type": "point", "shape": "M0,0L-2,-0.7L-1.5,0L-2,0.7Z", "filled": true, "color": "black", "size": 100, "opacity": 1},
     "encoding": {
       "x": {"field": "x2", "type": "quantitative", "axis": null, "scale": {"domain": [0, 10940], "nice": false, "zero": false}},
       "y": {"field": "y", "type": "quantitative", "axis": null, "scale": {"domain": [-40, 40], "nice": false}}
     }},
    {"data": {"name": "botText"}, "mark": {"type": "text", "fontSize": 15, "font": "Liberation Sans", "color": "black", "align": "center", "baseline": "middle"},
     "encoding": {
       "x": {"field": "t", "type": "quantitative", "axis": null, "scale": {"domain": [0, 10940], "nice": false, "zero": false}},
       "y": {"field": "v", "type": "quantitative", "axis": null, "scale": {"domain": [-40, 40], "nice": false}},
       "text": {"field": "label"}
     }}
  ]
}
]
}
